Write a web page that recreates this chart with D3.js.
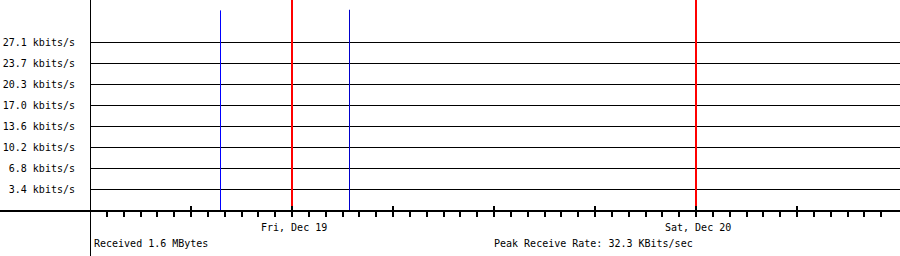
<!DOCTYPE html>
<html>
<head>
<meta charset="utf-8">
<script src="https://cdn.jsdelivr.net/npm/d3@7"></script>
<style>
  html, body { margin: 0; padding: 0; background: #fff; }
  svg { display: block; }
  text { font-family: "DejaVu Sans Mono", "Liberation Mono", monospace; font-size: 10px; fill: #000; }
</style>
</head>
<body>
<svg id="chart" width="900" height="256"></svg>
<script>
// ---- data ----
const yTickValues = [3.4, 6.8, 10.2, 13.6, 17.0, 20.3, 23.7, 27.1];
const yTickLabels = ["3.4 kbits/s", "6.8 kbits/s", "10.2 kbits/s", "13.6 kbits/s",
                     "17.0 kbits/s", "20.3 kbits/s", "23.7 kbits/s", "27.1 kbits/s"];
const sampleTimes = ["2025-12-18T19:43", "2025-12-19T03:23"];
const sampleValues = [32.2, 32.3];   // kbits/s
const dayMarks = ["2025-12-19T00:00", "2025-12-20T00:00"];
const dayLabels = ["Fri, Dec 19", "Sat, Dec 20"];
const footerLeft = "Received 1.6 MBytes";
const footerRight = "Peak Receive Rate: 32.3 KBits/sec";
const timeStart = "2025-12-18T12:00";
const timeEnd = "2025-12-20T12:00";
const yMax = 33.875;

// ---- layout ----
const svg = d3.select("#chart");
const W = 900, H = 256;
const left = 90, right = 898, axisY = 210;
const parse = d3.isoParse;

const x = d3.scaleTime().domain([parse(timeStart), parse(timeEnd)]).range([left, right]);
const y = d3.scaleLinear().domain([0, yMax]).range([axisY, 0]);

// gridlines
const step = yTickValues[yTickValues.length - 1] / yTickValues.length;
svg.append("g").selectAll("rect").data(yTickValues).join("rect")
  .attr("x", left).attr("width", W - left)
  .attr("y", (d, i) => Math.round(y(step * (i + 1))))
  .attr("height", 1).attr("fill", "#000")
  .attr("shape-rendering", "crispEdges");

// y labels
svg.append("g").selectAll("text").data(yTickLabels).join("text")
  .attr("x", 75)
  .attr("y", (d, i) => Math.round(y(step * (i + 1))) + 4)
  .attr("text-anchor", "end")
  .text(d => d);

// day marker lines (red)
svg.append("g").selectAll("rect").data(dayMarks).join("rect")
  .attr("x", d => Math.round(x(parse(d))) - 1).attr("width", 2)
  .attr("y", 0).attr("height", axisY)
  .attr("fill", "#ff0000")
  .attr("shape-rendering", "crispEdges");

// data samples (blue)
const sampleColors = ["#0000ff", "#0000cc"];
svg.append("g").selectAll("rect").data(sampleTimes).join("rect")
  .attr("x", d => Math.round(x(parse(d)))).attr("width", 1)
  .attr("y", (d, i) => y(sampleValues[i]))
  .attr("height", (d, i) => axisY - y(sampleValues[i]))
  .attr("fill", (d, i) => sampleColors[i]);

// axes lines
svg.append("rect").attr("x", left).attr("y", 0).attr("width", 1).attr("height", H)
  .attr("fill", "#000").attr("shape-rendering", "crispEdges");
svg.append("rect").attr("x", 0).attr("y", axisY).attr("width", W).attr("height", 2)
  .attr("fill", "#000").attr("shape-rendering", "crispEdges");

// hourly ticks
const hours = d3.timeHour.range(d3.timeHour.offset(parse(timeStart), 1), parse(timeEnd));
svg.append("g").selectAll("rect").data(hours).join("rect")
  .attr("x", d => Math.round(x(d)) - 1).attr("width", 2)
  .attr("y", d => d.getHours() % 6 === 0 ? axisY - 4 : axisY + 2)
  .attr("height", d => d.getHours() % 6 === 0 ? 11 : 5)
  .attr("fill", "#000").attr("shape-rendering", "crispEdges");

// day labels
svg.append("g").selectAll("text").data(dayMarks).join("text")
  .attr("x", d => Math.round(x(parse(d))) - 31)
  .attr("y", 231)
  .text((d, i) => dayLabels[i]);

// footer
svg.append("text").attr("x", 94).attr("y", 247).text(footerLeft);
svg.append("text").attr("x", 494).attr("y", 247).text(footerRight);
</script>
</body>
</html>
